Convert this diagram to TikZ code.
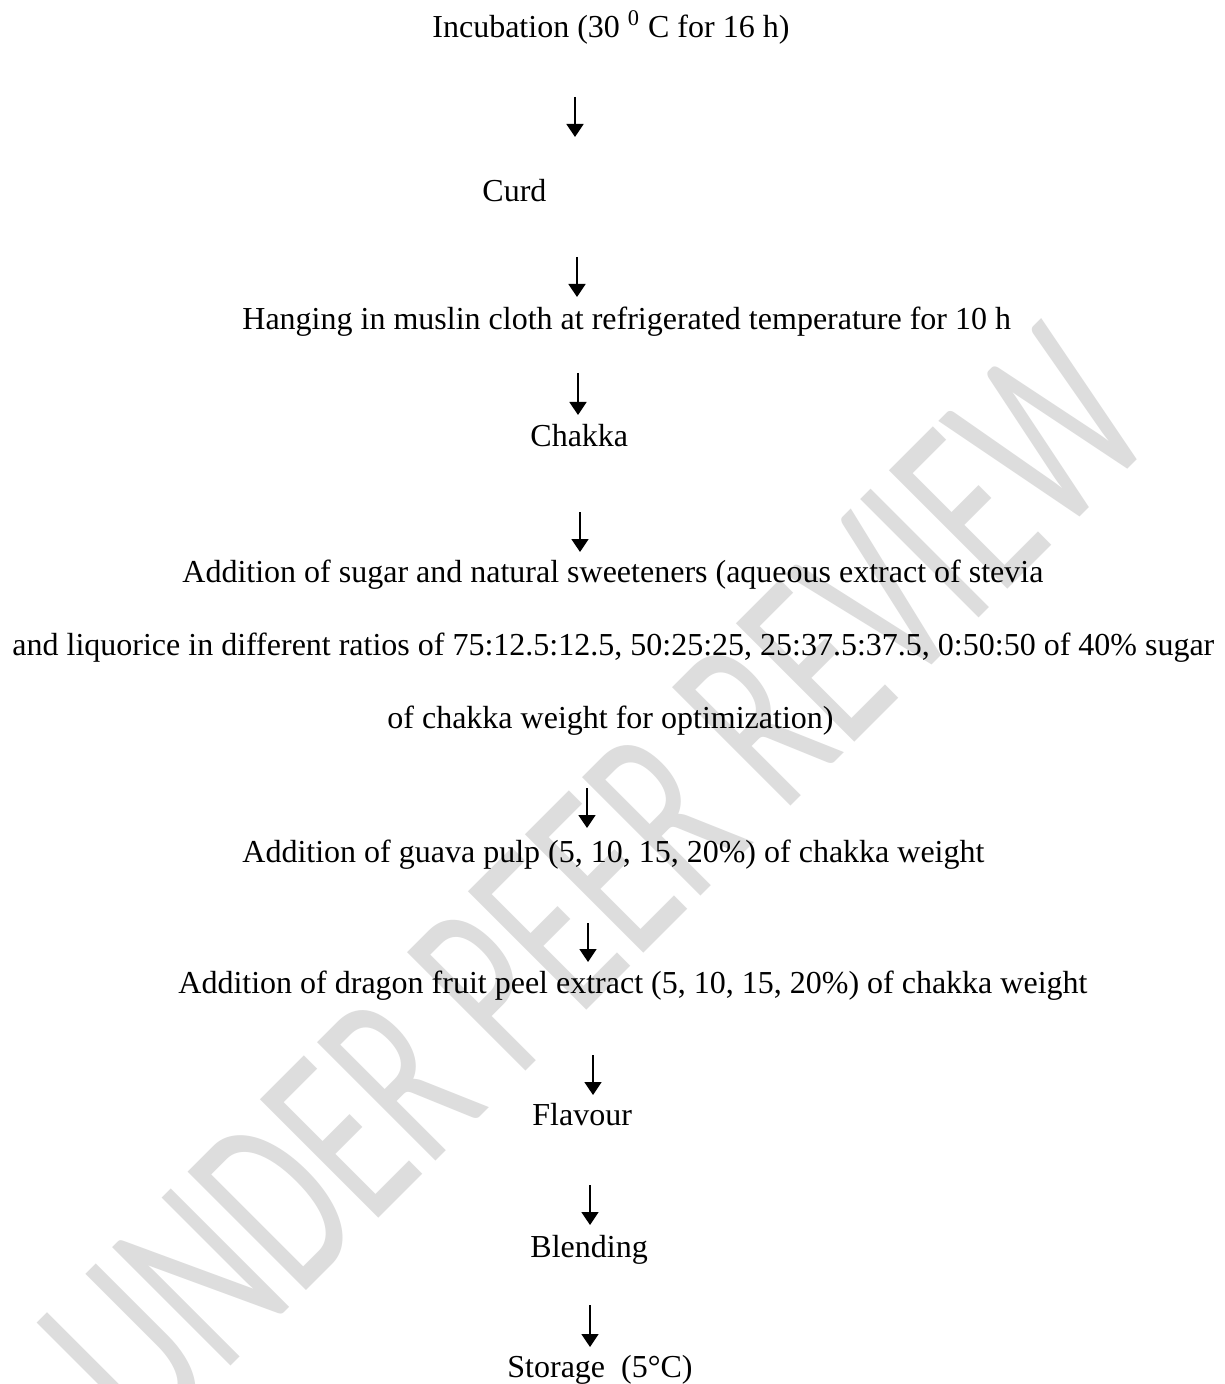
\documentclass[tikz,border=0pt]{standalone}
\usepackage{fontspec}
\usepackage{graphicx}
\setmainfont{Liberation Serif}
\newfontfamily\wmfont{Carlito}
\usetikzlibrary{arrows.meta}
\definecolor{wmgray}{RGB}{221,221,221}
\begin{document}
\begin{tikzpicture}[x=0.5pt,y=-0.5pt,
  txt/.style={anchor=base west, inner sep=0pt, font=\fontsize{16}{19}\selectfont},
  flow/.style={-{Triangle[length=6.5pt,width=8.5pt]}, line width=0.9pt},
  wm/.style={anchor=base, inner sep=0pt, text=wmgray, font=\wmfont\fontsize{130.5}{140}\selectfont}]
\useasboundingbox (0,0) rectangle (1224,1384);
\fill[white] (0,0) rectangle (1224,1384);
% watermark
\node[wm, rotate=45] (wmark) at (654,943) {\scalebox{0.635}[1]{UNDER PEER REVIEW}};
% steps
\node[txt] (n1) at (432,38) {Incubation (30 \textsuperscript{0} C for 16 h)};
\node[txt] (n2) at (482,202) {Curd};
\node[txt] (n3) at (242,330) {Hanging in muslin cloth at refrigerated temperature for 10 h};
\node[txt] (n4) at (530,447) {Chakka};
\node[txt] (n5a) at (182,582) {Addition of sugar and natural sweeteners (aqueous extract of stevia};
\node[txt] (n5b) at (12,655) {and liquorice in different ratios of 75:12.5:12.5, 50:25:25, 25:37.5:37.5, 0:50:50 of 40\% sugar};
\node[txt] (n5c) at (387,728) {of chakka weight for optimization)};
\node[txt] (n6) at (242,862) {Addition of guava pulp (5, 10, 15, 20\%) of chakka weight};
\node[txt] (n7) at (178,993) {Addition of dragon fruit peel extract (5, 10, 15, 20\%) of chakka weight};
\node[txt] (n8) at (532,1125) {Flavour};
\node[txt] (n9) at (530,1257) {Blending};
\node[txt] (n10) at (507,1377) {Storage~~(5°C)};
% arrows
\coordinate (a1s) at (575,97);   \coordinate (a1e) at (575,137);
\coordinate (a2s) at (577,257);  \coordinate (a2e) at (577,297);
\coordinate (a3s) at (578,373);  \coordinate (a3e) at (578,415);
\coordinate (a4s) at (580,512);  \coordinate (a4e) at (580,552);
\coordinate (a5s) at (587,788);  \coordinate (a5e) at (587,828);
\coordinate (a6s) at (588,923);  \coordinate (a6e) at (588,962);
\coordinate (a7s) at (593,1055); \coordinate (a7e) at (593,1095);
\coordinate (a8s) at (590,1185); \coordinate (a8e) at (590,1225);
\coordinate (a9s) at (590,1305); \coordinate (a9e) at (590,1347);
\foreach \i in {1,...,9} {\draw[flow] (a\i s) -- (a\i e);}
\end{tikzpicture}
\end{document}
